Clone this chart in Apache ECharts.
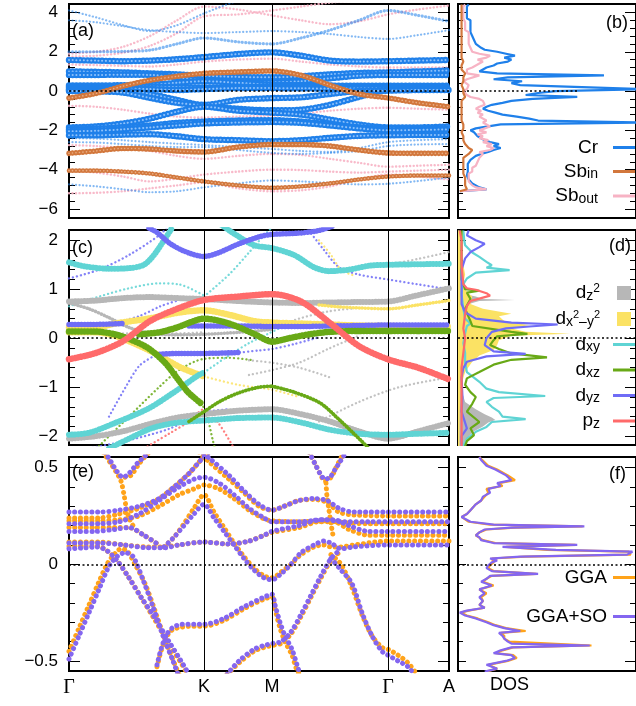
<!DOCTYPE html>
<html>
<head>
<meta charset="utf-8">
<script src="https://cdn.jsdelivr.net/npm/echarts@6/dist/echarts.min.js"></script>
<style>
html, body { margin: 0; padding: 0; background: #fff; }
#chart { width: 636px; height: 706px; }
</style>
</head>
<body>
<div id="chart"></div>
<script>
// ---------- k-path ----------
const kPoints = [0, 135, 203, 319, 380];
const kLabels = ['Γ', 'K', 'M', 'Γ', 'A'];
const kGrid = [0, 27, 54, 81, 108, 135, 169, 203, 232, 261, 290, 319, 349, 380];

// ---------- axis ticks ----------
const ticksA = [-6, -4, -2, 0, 2, 4];
const ticksC = [-2, -1, 0, 1, 2];
const ticksE = [-0.5, 0, 0.5];

// ---------- (a) Cr / Sb projected bands, energies on kGrid ----------
const crBands = [
  [1.58, 1.55, 1.52, 1.55, 1.62, 1.73, 1.88, 1.97, 1.8, 1.55, 1.5, 1.52, 1.55, 1.58],
  [1.0, 0.98, 0.95, 0.9, 0.85, 0.78, 0.72, 0.7, 0.75, 0.85, 0.92, 0.95, 1.0, 1.05],
  [0.82, 0.82, 0.83, 0.82, 0.7, 0.55, 0.45, 0.45, 0.5, 0.65, 0.78, 0.82, 0.82, 0.82],
  [0.28, 0.28, 0.3, 0.32, 0.42, 0.5, 0.42, 0.32, 0.3, 0.28, 0.27, 0.27, 0.27, 0.27],
  [0.2, 0.2, 0.2, 0.22, 0.2, 0.18, 0.2, 0.22, 0.22, 0.2, 0.2, 0.2, 0.2, 0.2],
  [0.12, 0.12, 0.12, 0.1, 0.05, 0.1, 0.15, 0.15, 0.14, 0.13, 0.13, 0.12, 0.12, 0.12],
  [0.06, 0.05, 0.02, -0.15, -0.45, -0.75, -0.9, -0.98, -0.95, -0.7, -0.3, 0.05, 0.08, 0.1],
  [0.0, -0.02, -0.08, -0.35, -0.6, -0.7, -0.45, -0.36, -0.32, -0.15, 0.0, 0.02, 0.05, 0.05],
  [-1.85, -1.8, -1.65, -1.4, -1.05, -0.8, -1.0, -1.1, -1.2, -1.45, -1.7, -1.85, -1.85, -1.8],
  [-1.95, -1.92, -1.85, -1.75, -1.62, -1.55, -1.5, -1.48, -1.55, -1.7, -1.85, -1.9, -1.9, -1.9],
  [-2.05, -2.02, -1.95, -1.85, -1.75, -1.65, -1.6, -1.58, -1.62, -1.75, -1.9, -2.0, -1.98, -1.95],
  [-2.25, -2.25, -2.22, -2.2, -2.3, -2.45, -2.5, -2.55, -2.5, -2.38, -2.28, -2.25, -2.24, -2.24]
];
const sbInBands = [
  [-0.36, -0.12, 0.25, 0.55, 0.75, 0.9, 0.97, 1.02, 0.8, 0.3, -0.15, -0.35, -0.6, -0.8],
  [-3.17, -3.05, -2.92, -2.95, -3.05, -3.1, -2.85, -2.72, -2.72, -2.8, -3.0, -3.15, -3.17, -3.17],
  [-4.05, -4.05, -4.1, -4.2, -4.4, -4.6, -4.8, -4.92, -4.85, -4.7, -4.5, -4.35, -4.3, -4.3]
];
const weakCrBands = [
  [4.1, 3.75, 3.35, 3.05, 3.35, 3.95, 4.6, 5.0, 5.0, 5.0, 5.0, 5.0, 5.0, 5.0],
  [3.6, 3.5, 3.3, 3.1, 3.0, 2.95, 3.0, 3.05, 3.0, 2.9, 2.75, 2.65, 2.85, 3.1],
  [2.0, 2.0, 2.02, 2.08, 2.4, 2.7, 2.5, 2.4, 2.7, 3.1, 3.6, 4.1, 3.85, 3.55],
  [-2.4, -2.42, -2.5, -2.6, -2.68, -2.75, -2.85, -2.95, -3.05, -3.1, -2.9, -2.6, -2.5, -2.45],
  [-2.6, -2.62, -2.7, -2.8, -2.85, -2.85, -3.0, -3.15, -3.2, -3.15, -3.05, -2.8, -2.72, -2.7],
  [-4.75, -4.85, -5.0, -5.15, -5.1, -4.9, -4.7, -4.55, -4.6, -4.68, -4.75, -4.72, -4.58, -4.4]
];
const sbOutBands = [
  [1.9, 2.0, 2.25, 2.8, 3.6, 4.3, 4.15, 3.85, 3.6, 3.4, 3.55, 3.9, 4.15, 4.35],
  [1.75, 1.8, 1.95, 2.3, 2.95, 3.8, 3.9, 4.1, 4.3, 4.5, 4.6, 4.6, 4.6, 4.6],
  [1.35, 1.32, 1.28, 1.25, 1.35, 1.5, 1.6, 1.65, 1.5, 1.35, 1.25, 1.2, 1.2, 1.2],
  [-0.75, -0.8, -0.95, -1.15, -1.3, -1.35, -1.3, -1.25, -1.15, -1.0, -0.9, -0.85, -0.9, -0.95],
  [-2.75, -2.8, -2.9, -3.05, -3.3, -3.45, -3.3, -3.2, -3.25, -3.45, -3.65, -3.85, -3.8, -3.75],
  [-4.05, -4.15, -4.35, -4.6, -4.45, -4.25, -4.1, -4.0, -4.02, -4.1, -4.15, -4.1, -4.05, -4.0],
  [-5.2, -5.18, -5.1, -4.95, -4.8, -4.65, -4.95, -5.1, -5.05, -4.85, -4.5, -4.25, -4.35, -4.5]
];

// ---------- (b) projected DOS on a 0.1 eV grid from -5.1 eV ----------
const dosStartE = -5.1, dosStepE = 0.1;
const dosCr = [
  0.01, 0.16, 0.12, 0.10, 0.08, 0.07, 0.06, 0.055, 0.05, 0.05,
  0.055, 0.05, 0.055, 0.06, 0.055, 0.065, 0.07, 0.08, 0.10, 0.13,
  0.17, 0.20, 0.24, 0.20, 0.23, 0.18, 0.15, 0.13, 0.11, 0.12,
  0.09, 0.07, 0.10, 0.17, 0.24, 1.05, 0.45, 0.40, 0.33, 0.25,
  0.21, 0.17, 0.14, 0.16, 0.19, 0.25, 0.30, 0.42, 0.67, 0.38,
  0.45, 0.55, 1.05, 1.05, 0.35, 0.30, 0.36, 0.20, 0.28, 0.82,
  0.22, 0.12, 0.14, 0.16, 0.20, 0.22, 0.28, 0.30, 0.26, 0.32,
  0.27, 0.22, 0.15, 0.13, 0.12, 0.10, 0.10, 0.09, 0.10, 0.08,
  0.09, 0.07, 0.08, 0.07, 0.06, 0.07, 0.06, 0.07, 0.05, 0.06,
  0.05, 0.06, 0.05, 0.06, 0.05, 0.06
];
const dosSbOut = [
  0.01, 0.16, 0.10, 0.08, 0.07, 0.06, 0.07, 0.06, 0.07, 0.06,
  0.08, 0.07, 0.08, 0.10, 0.09, 0.11, 0.10, 0.12, 0.11, 0.14,
  0.12, 0.18, 0.20, 0.16, 0.19, 0.14, 0.17, 0.12, 0.14, 0.11,
  0.16, 0.12, 0.13, 0.18, 0.17, 0.14, 0.16, 0.15, 0.12, 0.14,
  0.11, 0.13, 0.10, 0.12, 0.15, 0.16, 0.14, 0.12, 0.07, 0.05,
  0.04, 0.03, 0.05, 0.04, 0.06, 0.05, 0.03, 0.05, 0.04, 0.12,
  0.05, 0.04, 0.05, 0.08, 0.10, 0.09, 0.14, 0.11, 0.16, 0.18,
  0.12, 0.08, 0.09, 0.07, 0.08, 0.06, 0.07, 0.06, 0.05, 0.06,
  0.05, 0.06, 0.04, 0.05, 0.04, 0.05, 0.04, 0.05, 0.03, 0.04,
  0.03, 0.04, 0.03, 0.04, 0.03, 0.04
];
const dosSbIn = [
  0.01, 0.05, 0.05, 0.04, 0.05, 0.04, 0.05, 0.04, 0.04, 0.03,
  0.04, 0.03, 0.03, 0.03, 0.02, 0.03, 0.03, 0.03, 0.04, 0.06,
  0.07, 0.08, 0.06, 0.05, 0.04, 0.03, 0.03, 0.02, 0.03, 0.02,
  0.02, 0.02, 0.03, 0.02, 0.03, 0.03, 0.02, 0.02, 0.02, 0.02,
  0.02, 0.02, 0.02, 0.03, 0.02, 0.03, 0.02, 0.03, 0.04, 0.03,
  0.03, 0.02, 0.03, 0.03, 0.02, 0.02, 0.03, 0.02, 0.03, 0.04,
  0.04, 0.03, 0.02, 0.02, 0.02, 0.02, 0.03, 0.02, 0.02, 0.03,
  0.02, 0.02, 0.02, 0.02, 0.02, 0.02, 0.02, 0.02, 0.02, 0.02,
  0.02, 0.02, 0.02, 0.02, 0.02, 0.02, 0.02, 0.02, 0.02, 0.02,
  0.02, 0.02, 0.02, 0.02, 0.02, 0.02
];

// ---------- (c) orbital-resolved bands, [k, E] ----------
const pzFat = [[0,-0.43],[27,-0.3],[54,-0.06],[81,0.35],[108,0.6],[135,0.78],[169,0.85],[203,0.9],[232,0.75],[261,0.31],[290,-0.16],[319,-0.43],[349,-0.6],[380,-0.84]];
const dxzFat = [
  [[0,0.14],[25,0.14],[46,0.08],[62,-0.03],[79,-0.2],[96,-0.5],[109,-0.84],[119,-1.1],[132,-1.33]],
  [[70,0.08],[90,0.12],[108,0.22],[122,0.33],[135,0.4],[160,0.3],[186,0.08],[203,-0.07],[220,0.0],[240,0.08],[261,0.13],[290,0.15],[319,0.15],[349,0.15],[380,0.15]],
  [[203,-0.98],[225,-1.1],[251,-1.32],[268,-1.62],[285,-1.95],[300,-2.25]],
  [[120,-1.7],[135,-1.5],[150,-1.3],[169,-1.12],[190,-1.0],[203,-0.98]]
];
const dyzFat = [
  [[0,0.28],[20,0.28],[41,0.29],[54,0.3]],
  [[120,0.25],[150,0.25],[169,0.25],[203,0.24],[232,0.24],[261,0.25],[290,0.26],[319,0.27],[349,0.27],[380,0.27]],
  [[88,-0.33],[110,-0.31],[135,-0.31],[171,-0.29]],
  [[80,2.25],[88,2.16],[100,1.95],[115,1.78],[135,1.67],[150,1.75],[169,1.92],[190,2.07],[203,2.12],[232,2.15],[250,2.2],[265,2.3]]
];
const dxyFat = [
  [[0,1.55],[15,1.47],[40,1.42],[60,1.43],[75,1.5],[85,1.7],[95,2.0],[103,2.25]],
  [[150,2.35],[164,2.15],[185,1.9],[203,1.84],[225,1.7],[245,1.45],[260,1.37],[280,1.4],[300,1.48],[319,1.5],[380,1.52]],
  [[0,-1.97],[20,-1.93],[46,-1.73],[79,-1.44],[106,-1.09],[129,-0.76],[135,-0.7]],
  [[40,-2.25],[60,-2.05],[81,-1.85],[100,-1.75],[120,-1.7],[135,-1.68],[169,-1.63],[203,-1.62],[232,-1.72],[261,-1.87],[290,-1.95],[319,-1.97],[349,-1.95],[380,-1.93]]
];
const dz2Fat = [
  [[0,0.75],[27,0.77],[54,0.82],[81,0.84],[108,0.82],[135,0.8],[169,0.76],[203,0.73],[232,0.72],[261,0.73],[290,0.74],[319,0.75],[349,0.88],[380,1.02]],
  [[0,-2.05],[27,-2.0],[54,-1.9],[81,-1.75],[108,-1.62],[135,-1.55],[169,-1.48],[203,-1.45],[232,-1.55],[261,-1.7],[290,-1.9],[319,-2.05],[349,-1.9],[380,-1.73]],
  [[0,0.72],[20,0.6],[40,0.42],[60,0.22],[81,0.1],[108,0.07],[135,0.08],[169,0.12],[203,0.18]]
];
const dx2y2Fat = [
  [[0,0.22],[27,0.22],[46,0.3],[79,0.4],[112,0.53],[135,0.57],[160,0.48],[185,0.35],[203,0.32],[232,0.3],[261,0.28],[290,0.26],[319,0.25],[349,0.24],[380,0.24]],
  [[0,0.12],[27,0.12],[46,0.05],[70,-0.15],[90,-0.35],[112,-0.6],[135,-0.78]],
  [[250,0.68],[270,0.64],[290,0.62],[319,0.6],[349,0.68],[380,0.77]]
];
// weak-weight branches of (c): [colour key, points]
const weakOrbital = [
  ['dyz', [[0,1.22],[30,1.4],[60,1.7],[90,2.1],[100,2.3]]],
  ['dxy', [[0,0.65],[30,0.85],[60,1.02],[90,1.12],[110,1.1],[135,0.87]]],
  ['dxy', [[135,0.85],[160,1.3],[180,1.75],[195,2.1],[205,2.3]]],
  ['dxz', [[30,-2.2],[60,-1.6],[90,-1.0],[110,-0.65],[135,-0.42],[160,-0.4],[185,-0.45]]],
  ['dyz', [[20,-2.25],[60,-2.08],[100,-1.85],[135,-1.52],[160,-1.45]]],
  ['pz', [[75,-2.25],[100,-1.95],[120,-1.7],[135,-1.45],[150,-1.75],[165,-2.25]]],
  ['dz2', [[250,-1.7],[290,-1.3],[330,-1.0],[380,-0.8]]],
  ['dz2', [[203,0.2],[230,0.4],[260,0.55],[290,0.62]]],
  ['dz2', [[319,1.5],[349,1.62],[380,1.76]]],
  ['dyz', [[240,2.2],[255,1.8],[270,1.45],[290,1.3],[319,1.2],[349,1.1],[380,1.0]]],
  ['dx2y2', [[250,2.0],[262,1.7],[272,1.4],[285,1.28]]],
  ['dz2', [[180,-0.45],[203,-0.5],[230,-0.6],[261,-0.8]]],
  ['dz2', [[180,-0.75],[203,-0.65],[230,-0.5],[261,-0.2],[290,0.05]]],
  ['dxz', [[132,-1.33],[137,-1.5],[144,-2.1],[148,-2.4]]],
  ['dyz', [[41,0.29],[70,0.45],[91,0.65],[110,0.78]]],
  ['dyz', [[40,-1.6],[58,-0.95],[71,-0.55],[88,-0.33]]],
  ['dyz', [[171,-0.29],[190,-0.25],[203,-0.22],[225,-0.12],[250,0.02]]],
  ['dxy', [[135,-0.7],[160,-0.35],[180,-0.1],[200,0.1],[215,0.25]]],
  ['dx2y2', [[135,-0.78],[169,-0.95],[203,-1.05],[230,-1.2]]],
  ['dz2', [[54,0.1],[81,0.1],[108,0.1],[135,0.12]]]
];

// ---------- (c) orbital DOS, [E, DOS] ----------
const dosDz2 = [[2.2,0.008],[1.5,0.008],[1.0,0.01],[0.9,0.04],[0.85,0.1],[0.8,0.14],[0.78,0.32],[0.76,0.12],[0.72,0.08],[0.65,0.03],[0.5,0.015],[0.2,0.02],[0.0,0.015],[-0.5,0.01],[-1.0,0.015],[-1.3,0.04],[-1.45,0.1],[-1.55,0.15],[-1.62,0.19],[-1.67,0.21],[-1.72,0.17],[-1.8,0.14],[-1.9,0.09],[-2.0,0.06],[-2.1,0.04],[-2.2,0.03]];
const dosDx2y2 = [[2.2,0.008],[1.8,0.015],[1.5,0.03],[1.3,0.04],[1.1,0.03],[0.95,0.05],[0.85,0.08],[0.7,0.07],[0.6,0.14],[0.5,0.3],[0.45,0.23],[0.38,0.25],[0.33,0.27],[0.27,0.4],[0.2,0.3],[0.13,0.38],[0.09,0.63],[0.05,0.3],[-0.04,0.23],[-0.14,0.22],[-0.24,0.2],[-0.35,0.12],[-0.48,0.08],[-0.69,0.04],[-1.0,0.015],[-1.5,0.01],[-2.2,0.008]];
const dosDxy = [[2.2,0.03],[2.0,0.035],[1.9,0.04],[1.75,0.08],[1.66,0.12],[1.56,0.16],[1.49,0.19],[1.44,0.16],[1.39,0.29],[1.34,0.1],[1.22,0.05],[1.08,0.025],[0.9,0.02],[0.6,0.03],[0.4,0.04],[0.3,0.07],[0.25,0.05],[0.1,0.04],[-0.1,0.03],[-0.3,0.04],[-0.5,0.04],[-0.69,0.05],[-0.89,0.12],[-1.03,0.16],[-1.1,0.23],[-1.18,0.49],[-1.22,0.2],[-1.3,0.16],[-1.4,0.19],[-1.5,0.23],[-1.6,0.25],[-1.65,0.38],[-1.71,0.19],[-1.81,0.16],[-1.91,0.1],[-2.05,0.05],[-2.2,0.03]];
const dosDxz = [[2.2,0.02],[1.2,0.02],[1.0,0.04],[0.97,0.12],[0.93,0.05],[0.8,0.07],[0.6,0.04],[0.35,0.07],[0.25,0.08],[0.13,0.3],[0.09,0.39],[0.04,0.22],[-0.04,0.2],[-0.14,0.18],[-0.22,0.23],[-0.31,0.3],[-0.39,0.5],[-0.44,0.3],[-0.54,0.2],[-0.69,0.12],[-0.82,0.05],[-0.95,0.04],[-1.1,0.07],[-1.2,0.1],[-1.34,0.08],[-1.5,0.05],[-1.71,0.12],[-1.84,0.07],[-1.98,0.09],[-2.1,0.05],[-2.2,0.04]];
const dosDyz = [[2.2,0.06],[2.17,0.065],[2.1,0.05],[2.0,0.1],[1.93,0.15],[1.86,0.12],[1.76,0.07],[1.63,0.04],[1.4,0.02],[1.0,0.02],[0.7,0.02],[0.53,0.04],[0.4,0.1],[0.32,0.3],[0.28,0.56],[0.24,0.4],[0.2,0.27],[0.13,0.19],[0.0,0.16],[-0.14,0.15],[-0.27,0.2],[-0.32,0.38],[-0.37,0.16],[-0.48,0.05],[-0.61,0.03],[-0.8,0.02],[-1.2,0.025],[-1.5,0.02],[-1.84,0.05],[-2.0,0.02],[-2.2,0.02]];
const dosPz = [[2.2,0.01],[2.0,0.02],[1.5,0.02],[1.1,0.03],[1.02,0.05],[0.99,0.1],[0.92,0.16],[0.87,0.18],[0.82,0.13],[0.76,0.07],[0.66,0.05],[0.5,0.04],[0.2,0.03],[0.0,0.04],[-0.3,0.03],[-0.6,0.02],[-1.0,0.02],[-2.2,0.02]];

// ---------- (e) bands near E_F, [k, E] ----------
const ggaSoBands = [
  [[0,0.27],[30,0.27],[50,0.28],[70,0.3],[90,0.34],[105,0.4],[120,0.47],[132,0.54],[140,0.58]],
  [[130,0.59],[140,0.55],[160,0.46],[175,0.38],[190,0.31],[203,0.28],[215,0.3],[230,0.33],[245,0.34],[258,0.33],[270,0.29],[285,0.27],[319,0.27],[380,0.27]],
  [[0,0.21],[30,0.21],[50,0.22],[70,0.26],[90,0.33],[110,0.4],[125,0.44],[135,0.45],[150,0.42],[165,0.36],[180,0.29],[195,0.24],[203,0.22],[230,0.22],[255,0.23],[275,0.22],[300,0.22],[319,0.22],[380,0.22]],
  [[95,0.09],[105,0.14],[115,0.2],[125,0.26],[135,0.31],[145,0.24],[155,0.17],[165,0.1],[175,0.03],[185,-0.03],[195,-0.07],[203,-0.08],[212,-0.05],[222,0.0],[232,0.06],[245,0.1],[255,0.12],[262,0.11],[272,0.08],[285,0.09],[319,0.1],[380,0.1]],
  [[0,0.11],[30,0.11],[55,0.1],[80,0.085],[95,0.085],[110,0.1],[135,0.115],[160,0.105],[180,0.12],[195,0.15],[203,0.17],[230,0.2],[250,0.23],[265,0.23],[280,0.2],[300,0.17],[319,0.17],[380,0.17]],
  [[0,0.17],[25,0.17],[45,0.18],[60,0.19],[75,0.15],[90,0.1]],
  [[0,-0.49],[10,-0.37],[20,-0.25],[30,-0.13],[40,-0.01],[48,0.04],[56,0.06],[64,0.04],[74,-0.08],[84,-0.22],[94,-0.37],[104,-0.5],[109,-0.57]],
  [[0,0.08],[15,0.085],[28,0.09],[38,0.07],[48,0.02],[60,-0.07],[72,-0.17],[85,-0.27],[100,-0.4],[112,-0.5],[120,-0.57]],
  [[88,-0.52],[92,-0.44],[97,-0.37],[103,-0.33],[113,-0.31],[125,-0.31],[135,-0.31],[155,-0.28],[175,-0.22],[195,-0.17],[203,-0.155],[206,-0.21],[211,-0.3],[216,-0.37],[223,-0.44],[228,-0.52],[231,-0.57]],
  [[158,-0.57],[170,-0.5],[185,-0.44],[195,-0.42],[203,-0.41],[212,-0.4],[222,-0.35],[232,-0.26],[242,-0.16],[252,-0.06],[262,0.03],[270,0.07]],
  [[262,0.03],[272,-0.03],[283,-0.1],[293,-0.25],[303,-0.37],[313,-0.45],[319,-0.47],[329,-0.5],[339,-0.53],[345,-0.57]],
  [[36,0.58],[42,0.53],[48,0.48],[54,0.45],[60,0.47],[68,0.52],[76,0.56],[82,0.59]],
  [[240,0.58],[246,0.52],[251,0.47],[256,0.44],[261,0.45],[266,0.49],[271,0.53],[277,0.58]]
];
const ggaBands = [
  [[0,0.24],[30,0.24],[50,0.26],[70,0.29],[90,0.34],[105,0.4],[120,0.47],[132,0.54],[140,0.58]],
  [[130,0.58],[140,0.53],[160,0.44],[175,0.37],[190,0.3],[203,0.28],[215,0.3],[230,0.33],[245,0.335],[258,0.32],[270,0.27],[285,0.255],[319,0.25],[380,0.25]],
  [[0,0.225],[30,0.225],[50,0.23],[70,0.25],[90,0.3],[110,0.36],[125,0.39],[135,0.41],[150,0.39],[165,0.34],[180,0.28],[195,0.235],[203,0.225],[230,0.22],[255,0.225],[275,0.215],[300,0.21],[319,0.21],[380,0.21]],
  [[95,0.09],[105,0.14],[115,0.21],[125,0.29],[135,0.36],[145,0.27],[155,0.19],[165,0.11],[175,0.04],[185,-0.02],[195,-0.06],[203,-0.07],[212,-0.04],[222,0.0],[232,0.05],[245,0.09],[255,0.1],[262,0.09],[272,0.09],[285,0.1],[319,0.12],[380,0.12]],
  [[0,0.115],[30,0.115],[55,0.1],[80,0.09],[95,0.09],[110,0.1],[135,0.115],[160,0.105],[180,0.12],[195,0.15],[203,0.165],[230,0.19],[250,0.22],[265,0.22],[280,0.18],[300,0.15],[319,0.15],[380,0.15]],
  [[0,0.19],[25,0.19],[45,0.19],[60,0.19],[75,0.15],[90,0.1]],
  [[0,-0.45],[10,-0.33],[20,-0.21],[30,-0.09],[38,0.0],[45,0.05],[52,0.08],[58,0.07],[66,0.0],[76,-0.1],[86,-0.24],[96,-0.39],[106,-0.52],[110,-0.57]],
  [[0,0.093],[15,0.095],[28,0.095],[38,0.07],[48,0.02],[60,-0.07],[72,-0.17],[85,-0.28],[100,-0.41],[112,-0.51],[119,-0.57]],
  [[88,-0.53],[92,-0.45],[97,-0.38],[103,-0.34],[113,-0.325],[125,-0.32],[135,-0.32],[155,-0.29],[175,-0.23],[195,-0.18],[203,-0.17],[206,-0.23],[211,-0.33],[216,-0.4],[223,-0.47],[228,-0.55],[231,-0.57]],
  [[158,-0.57],[170,-0.51],[185,-0.45],[195,-0.43],[203,-0.42],[212,-0.41],[222,-0.36],[232,-0.27],[242,-0.17],[252,-0.07],[262,0.02],[270,0.06]],
  [[262,0.05],[272,0.0],[283,-0.12],[293,-0.26],[303,-0.37],[313,-0.43],[319,-0.44],[329,-0.47],[339,-0.51],[348,-0.57]],
  [[34,0.58],[42,0.52],[48,0.47],[52,0.43],[55,0.36],[57,0.3],[60,0.24],[64,0.2]],
  [[56,0.45],[62,0.46],[70,0.52],[80,0.58]],
  [[240,0.58],[246,0.52],[251,0.47],[256,0.43],[262,0.45],[268,0.51],[274,0.57]],
  [[257,0.42],[258,0.35],[260,0.28],[262,0.21],[264,0.15]]
];

// ---------- (f) total DOS near E_F, [E, DOS] ----------
const dosGgaSo = [[0.555,0.12],[0.54,0.13],[0.51,0.16],[0.49,0.21],[0.46,0.27],[0.435,0.3],[0.42,0.22],[0.405,0.24],[0.39,0.17],[0.37,0.18],[0.35,0.14],[0.33,0.13],[0.31,0.1],[0.28,0.07],[0.26,0.05],[0.245,0.02],[0.235,0.03],[0.22,0.07],[0.205,0.2],[0.196,0.71],[0.19,0.3],[0.18,0.15],[0.165,0.12],[0.15,0.1],[0.14,0.12],[0.125,0.13],[0.11,0.2],[0.1,0.67],[0.09,0.25],[0.075,0.55],[0.065,0.98],[0.05,0.95],[0.04,0.35],[0.03,0.18],[0.02,0.22],[0.01,0.19],[-0.005,0.17],[-0.02,0.16],[-0.035,0.19],[-0.05,0.45],[-0.06,0.18],[-0.075,0.16],[-0.09,0.13],[-0.11,0.19],[-0.13,0.12],[-0.15,0.15],[-0.17,0.12],[-0.19,0.14],[-0.21,0.12],[-0.225,0.15],[-0.24,0.05],[-0.25,0.01],[-0.265,0.04],[-0.28,0.1],[-0.3,0.16],[-0.315,0.2],[-0.33,0.26],[-0.345,0.35],[-0.355,0.23],[-0.37,0.25],[-0.385,0.26],[-0.4,0.28],[-0.41,0.3],[-0.42,0.74],[-0.43,0.3],[-0.445,0.24],[-0.46,0.2],[-0.47,0.3],[-0.485,0.32],[-0.5,0.27],[-0.52,0.16],[-0.54,0.22],[-0.555,0.15]];
const dosGga = [[0.555,0.12],[0.54,0.135],[0.51,0.17],[0.49,0.22],[0.46,0.28],[0.435,0.32],[0.42,0.23],[0.405,0.25],[0.39,0.16],[0.37,0.17],[0.35,0.15],[0.33,0.13],[0.31,0.1],[0.28,0.07],[0.26,0.05],[0.245,0.02],[0.235,0.03],[0.22,0.06],[0.205,0.18],[0.196,0.7],[0.19,0.32],[0.18,0.16],[0.165,0.12],[0.15,0.1],[0.14,0.11],[0.125,0.14],[0.11,0.21],[0.1,0.66],[0.09,0.27],[0.075,0.5],[0.065,0.96],[0.05,0.97],[0.04,0.38],[0.03,0.19],[0.02,0.2],[0.01,0.2],[-0.005,0.18],[-0.02,0.17],[-0.035,0.2],[-0.05,0.44],[-0.06,0.19],[-0.075,0.16],[-0.09,0.14],[-0.11,0.2],[-0.13,0.12],[-0.15,0.16],[-0.17,0.13],[-0.19,0.14],[-0.21,0.12],[-0.225,0.15],[-0.24,0.06],[-0.25,0.015],[-0.265,0.05],[-0.28,0.11],[-0.3,0.17],[-0.315,0.21],[-0.33,0.27],[-0.345,0.38],[-0.355,0.24],[-0.37,0.26],[-0.385,0.26],[-0.4,0.29],[-0.41,0.3],[-0.42,0.75],[-0.43,0.31],[-0.445,0.25],[-0.46,0.21],[-0.47,0.31],[-0.485,0.33],[-0.5,0.28],[-0.52,0.17],[-0.54,0.22],[-0.555,0.16]];

// ---------- colours ----------
const C = {
  Cr: '#1f80ea', CrCore: '#a9d1ff', SbIn: '#d2773c', SbInCore: '#f2c4a2', SbOut: '#f7b3c4',
  dz2: '#b7b7b7', dx2y2: '#fbe264', dxy: '#5fd4d4', dxz: '#68a916', dyz: '#6f6cf6', pz: '#ff6a6a',
  gga: '#ffa31a', ggaSo: '#8466f0'
};
const FONT = 'Liberation Sans';

// ---------- layout ----------
const gridBoxes = [
  {left: 69, top: 4, width: 380, height: 214},
  {left: 458, top: 4, width: 182, height: 214},
  {left: 69, top: 230, width: 380, height: 215},
  {left: 458, top: 230, width: 182, height: 215},
  {left: 69, top: 457, width: 380, height: 214},
  {left: 458, top: 457, width: 182, height: 214}
];
const yRanges = [[-6.46, 4.43], [-6.46, 4.43], [-2.18, 2.21], [-2.18, 2.21], [-0.552, 0.555], [-0.552, 0.555]];
const majorTicks = [ticksA, ticksA, ticksC, ticksC, ticksE, ticksE];
const minorSteps = [0.4, 0.4, 0.2, 0.2, 0.1, 0.1];

function minorTicks(majors, step, min, max) {
  const out = [];
  for (let i = Math.ceil(min / step); i * step <= max + 1e-9; i++) {
    const v = +(i * step).toFixed(4);
    if (!majors.some(m => Math.abs(m - v) < 1e-6)) out.push(v);
  }
  return out;
}
const minusFmt = v => (v < 0 ? '\u2212' + Math.abs(v) : String(v));

const grid = gridBoxes.map(g => Object.assign({}, g, {show: true, borderColor: '#000', borderWidth: 2, backgroundColor: '#fff'}));

const xAxis = gridBoxes.map((g, i) => {
  const isBand = i % 2 === 0;
  const ax = {type: 'value', gridIndex: i, min: 0, max: isBand ? 380 : 1,
    axisLine: {show: false}, axisTick: {show: false}, splitLine: {show: false}, axisLabel: {show: false}};
  if (i === 4) {
    ax.axisLabel = {
      show: true, customValues: kPoints, margin: 7, color: '#000', fontSize: 18, fontFamily: FONT,
      formatter: v => { const s = kLabels[kPoints.indexOf(v)]; return s === 'Γ' ? '{g|Γ}' : s; },
      rich: {g: {fontFamily: 'Liberation Serif', fontSize: 20, color: '#000'}}
    };
  }
  return ax;
});

const yAxis = [];
gridBoxes.forEach((g, i) => {
  const [mn, mx] = yRanges[i];
  const majors = majorTicks[i];
  const minors = minorTicks(majors, minorSteps[i], mn, mx);
  const isBand = i % 2 === 0;
  const base = {type: 'value', gridIndex: i, min: mn, max: mx, splitLine: {show: false}, axisLine: {show: false}};
  const tick = (vals, len) => ({show: true, inside: true, length: len, customValues: vals, lineStyle: {color: '#000', width: 1}});
  yAxis.push(Object.assign({}, base, {position: 'left', axisTick: tick(majors, isBand ? 11 : 8),
    axisLabel: {show: isBand, customValues: majors, formatter: minusFmt, margin: 11, color: '#000', fontSize: 17, fontFamily: FONT}}));
  yAxis.push(Object.assign({}, base, {position: 'left', axisTick: tick(minors, isBand ? 6 : 5), axisLabel: {show: false}}));
  yAxis.push(Object.assign({}, base, {position: 'right', axisTick: tick(majors, 11), axisLabel: {show: false}}));
  yAxis.push(Object.assign({}, base, {position: 'right', axisTick: tick(minors, 6), axisLabel: {show: false}}));
});

// ---------- series builders ----------
const onGrid = es => es.map((e, i) => [kGrid[i], e]);

function bandSeries(gi, pts, color, w, gap, opacity, z) {
  return {
    type: 'line', xAxisIndex: gi, yAxisIndex: gi * 4, data: pts, smooth: 0.3,
    symbol: 'none', silent: true, z: z, animation: false,
    lineStyle: {color: color, width: w, type: [0.1, gap], cap: 'round', opacity: opacity}
  };
}
function dosLine(gi, name, pts, color, w, z) {
  return {
    type: 'line', name: name, xAxisIndex: gi, yAxisIndex: gi * 4, data: pts.map(p => [p[1], p[0]]),
    symbol: 'none', silent: true, z: z, animation: false,
    itemStyle: {color: color}, lineStyle: {color: color, width: w}
  };
}
function dosFill(gi, name, pts, color, z) {
  return {
    type: 'custom', name: name, xAxisIndex: gi, yAxisIndex: gi * 4, data: [[0, 0]], silent: true, z: z,
    animation: false, itemStyle: {color: color},
    renderItem: (params, api) => {
      const poly = pts.map(p => api.coord([p[1], p[0]]));
      poly.unshift(api.coord([0, pts[0][0]]));
      poly.push(api.coord([0, pts[pts.length - 1][0]]));
      return {type: 'polygon', shape: {points: poly}, style: {fill: color}};
    }
  };
}
const zeroStyle = {color: '#000', width: 1.6, type: [2, 2.5]};
function guideSeries(gi, vlines, zeroTo) {
  const data = vlines.map(k => ({xAxis: k, lineStyle: {color: '#000', width: 1, type: 'solid'}}));
  if (zeroTo == null) data.push({yAxis: 0, lineStyle: zeroStyle});
  else data.push([{coord: [0, 0], lineStyle: zeroStyle}, {coord: [zeroTo, 0]}]);
  return {
    type: 'line', xAxisIndex: gi, yAxisIndex: gi * 4, data: [[0, 0]], symbol: 'none', silent: true, z: 8,
    lineStyle: {opacity: 0}, animation: false,
    markLine: {silent: true, symbol: ['none', 'none'], label: {show: false}, animation: false, data: data}
  };
}

const series = [];
const inner = kPoints.slice(1, 4);

// (a): weak branches, then fat Cr and Sb_in circles drawn as rings
sbOutBands.forEach(b => series.push(bandSeries(0, onGrid(b), C.SbOut, 2.4, 3.4, 0.9, 2)));
weakCrBands.forEach((b, i) => series.push(bandSeries(0, onGrid(b), C.Cr, i === 2 ? 3.2 : 2.2, 3.4, 0.55, 2)));
crBands.forEach(b => {
  series.push(bandSeries(0, onGrid(b), C.Cr, 6.4, 3.6, 1, 3));
  series.push(bandSeries(0, onGrid(b), C.CrCore, 2, 3.6, 0.8, 3));
});
sbInBands.forEach((b, i) => {
  const w = i === 2 ? 4.6 : 5.6;
  series.push(bandSeries(0, onGrid(b), C.SbIn, w, 3.4, 1, 4));
  series.push(bandSeries(0, onGrid(b), C.SbInCore, 1.6, 3.4, 0.7, 4));
});
series.push(guideSeries(0, inner, null));

// (b)
const dosE = dosCr.map((_, i) => +(dosStartE + i * dosStepE).toFixed(2));
series.push(dosLine(1, 'Cr', dosE.map((e, i) => [e, dosCr[i]]), C.Cr, 2.2, 3));
series.push(dosLine(1, 'Sb_out', dosE.map((e, i) => [e, dosSbOut[i]]), C.SbOut, 2.2, 4));
series.push(dosLine(1, 'Sb_in', dosE.map((e, i) => [e, dosSbIn[i]]), C.SbIn, 2.2, 5));
series.push(guideSeries(1, [], 0.67));

// (c)
weakOrbital.forEach(([key, pts]) => series.push(bandSeries(2, pts, C[key], 2.3, 4, 0.85, 2)));
dz2Fat.forEach((b, i) => series.push(bandSeries(2, b, C.dz2, i === 2 ? 3.5 : 6, 3, 1, 3)));
dx2y2Fat.forEach((b, i) => series.push(bandSeries(2, b, C.dx2y2, i === 2 ? 3.5 : 6.5, 3, 1, 3)));
dxyFat.forEach(b => series.push(bandSeries(2, b, C.dxy, 6, 3, 1, 4)));
dyzFat.forEach(b => series.push(bandSeries(2, b, C.dyz, 5.5, 3, 1, 4)));
dxzFat.forEach((b, i) => series.push(bandSeries(2, b, C.dxz, i >= 2 ? 3.8 : 6.5, 3, 1, 5)));
series.push(bandSeries(2, pzFat, C.pz, 6.5, 3, 1, 6));
series.push(guideSeries(2, inner, null));

// (d)
series.push(dosFill(3, 'd_z2', dosDz2, C.dz2, 2));
series.push(dosFill(3, 'd_x2-y2', dosDx2y2, C.dx2y2, 2));
series.push(dosLine(3, 'd_xy', dosDxy, C.dxy, 2.2, 3));
series.push(dosLine(3, 'd_xz', dosDxz, C.dxz, 2.2, 4));
series.push(dosLine(3, 'd_yz', dosDyz, C.dyz, 2.2, 5));
series.push(dosLine(3, 'p_z', dosPz, C.pz, 2.2, 6));
series.push(guideSeries(3, [], null));

// (e)
ggaBands.forEach(b => series.push(bandSeries(4, b, C.gga, 5, 5.6, 1, 3)));
ggaSoBands.forEach(b => series.push(bandSeries(4, b, C.ggaSo, 5, 5.6, 1, 4)));
series.push(guideSeries(4, inner, null));

// (f)
series.push(dosLine(5, 'GGA', dosGga, C.gga, 2.2, 3));
series.push(dosLine(5, 'GGA+SO', dosGgaSo, C.ggaSo, 2.2, 4));
series.push(guideSeries(5, [], null));

// ---------- legends ----------
const LINE_ICON = 'path://M0,0H22V3H0Z';
const SQUARE_ICON = 'path://M0,0H13V13H0Z';
function richSet(gapW) {
  return {
    n: {fontSize: 19, lineHeight: 20, fontFamily: FONT, color: '#000'},
    s: {fontSize: 14, lineHeight: 9, verticalAlign: 'bottom', fontFamily: FONT, color: '#000'},
    p: {fontSize: 12, lineHeight: 12, verticalAlign: 'top', fontFamily: FONT, color: '#000'},
    q: {fontSize: 11, lineHeight: 14, verticalAlign: 'top', fontFamily: FONT, color: '#000'},
    gap: {width: gapW, fontSize: 10}
  };
}
const legendText = {
  'Cr': '{n|Cr}', 'Sb_in': '{n|Sb}{s|in}', 'Sb_out': '{n|Sb}{s|out}',
  'd_z2': '{n|d}{s|z}{p|2}', 'd_x2-y2': '{n|d}{s|x}{q|2}{s|\u2013y}{q|2}',
  'd_xy': '{n|d}{s|xy}', 'd_xz': '{n|d}{s|xz}', 'd_yz': '{n|d}{s|yz}', 'p_z': '{n|p}{s|z}',
  'GGA': '{n|GGA}', 'GGA+SO': '{n|GGA+SO}'
};
function legendBlock(items, top, gap, gapW) {
  return {
    data: items.map(([name, icon]) => ({name: name, icon: icon})),
    orient: 'vertical', align: 'right', right: -4, top: top,
    itemWidth: 22, itemHeight: 14, itemGap: gap, selectedMode: false,
    formatter: name => legendText[name] + '{gap| }',
    textStyle: {fontSize: 19, fontFamily: FONT, color: '#000', rich: richSet(gapW)}
  };
}
const legend = [
  legendBlock([['Cr', LINE_ICON], ['Sb_in', LINE_ICON], ['Sb_out', LINE_ICON]], 133, 5, 10),
  legendBlock([['d_z2', SQUARE_ICON], ['d_x2-y2', SQUARE_ICON], ['d_xy', LINE_ICON], ['d_xz', LINE_ICON], ['d_yz', LINE_ICON], ['p_z', LINE_ICON]], 278, 6, 8),
  legendBlock([['GGA', LINE_ICON], ['GGA+SO', LINE_ICON]], 563, 20, 1)
];

// ---------- panel tags ----------
const panelTags = [['(a)', 72, 32], ['(b)', 606, 24], ['(c)', 72, 249], ['(d)', 609, 247], ['(e)', 72, 473], ['(f)', 609, 475]];
const graphic = panelTags.map(([t, x, y]) => ({
  type: 'text', left: x, top: y - 10, z: 20, silent: true,
  style: {text: t, fontSize: 18, fontFamily: FONT, fill: '#000'}
}));
graphic.push({type: 'text', left: 490, top: 676, z: 20, silent: true,
  style: {text: 'DOS', fontSize: 18, fontFamily: FONT, fill: '#000'}});

const chart = echarts.init(document.getElementById('chart'), null, {renderer: 'canvas'});
chart.setOption({
  animation: false,
  backgroundColor: '#fff',
  grid: grid,
  xAxis: xAxis,
  yAxis: yAxis,
  legend: legend,
  graphic: graphic,
  series: series
});
</script>
</body>
</html>
